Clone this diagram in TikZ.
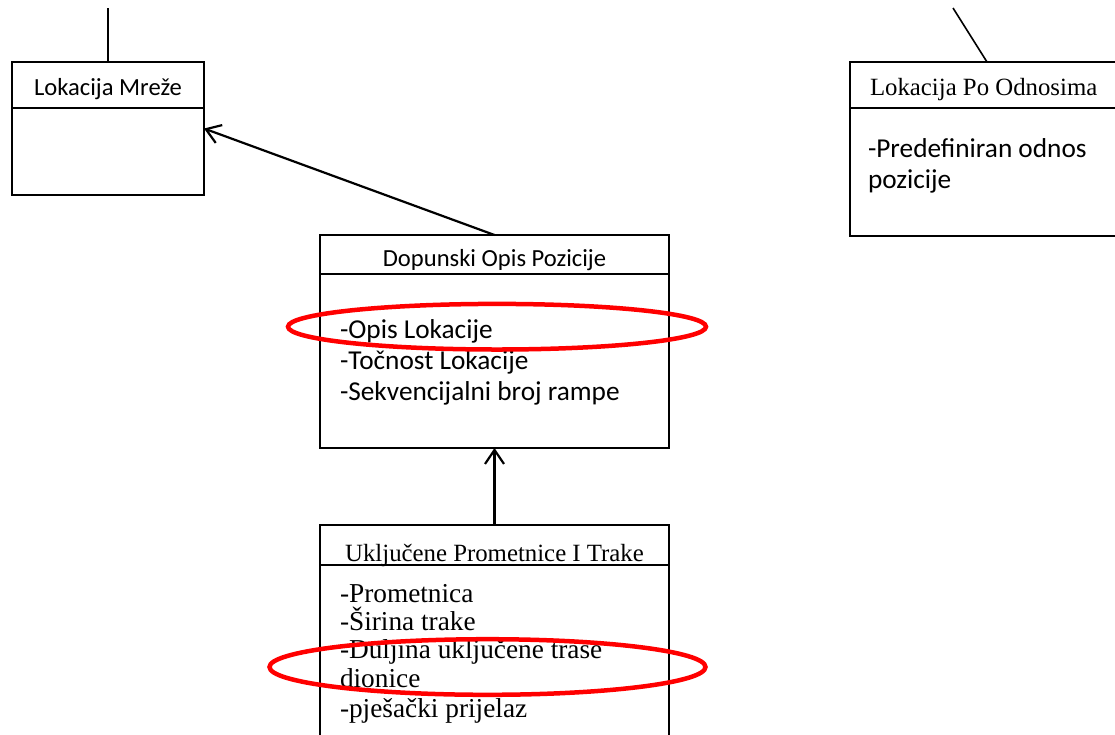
\documentclass[tikz,border=0pt]{standalone}
\usepackage{fontspec}
\setmainfont{Liberation Serif}
\newfontfamily\carlito{Carlito}
\usetikzlibrary{arrows.meta}
\newcommand{\sansttl}{\carlito\fontsize{24.6}{29}\selectfont}
\newcommand{\sansatr}{\carlito\fontsize{27.3}{31}\selectfont}
\newcommand{\serifttl}{\fontsize{24.8}{29}\selectfont}
\newcommand{\serifatr}{\fontsize{27.3}{29}\selectfont}

\begin{document}
\begin{tikzpicture}[x=1pt,y=-1pt,
    box/.style={draw,line width=1.8pt,inner sep=0pt,outer sep=0pt},
    txt/.style={inner sep=0pt,outer sep=0pt},
    assoc/.style={line width=2.2pt,-{Straight Barb[length=14pt,width=19pt,line width=2.2pt]}},
    redmark/.style={draw=red,line width=4.5pt}]
    \useasboundingbox (0,0) rectangle (1115,734);

    % class boxes
    \node[box,minimum width=192pt,minimum height=133pt] (mreza) at (108,128.5) {};
    \node[box,minimum width=274pt,minimum height=174pt] (odnos) at (987,149) {};
    \node[box,minimum width=349pt,minimum height=213pt] (dopis) at (494.5,341.5) {};
    \node[box,minimum width=349pt,minimum height=220pt] (trake) at (494.5,635) {};

    % dividers
    \draw[line width=1.8pt] (mreza.west |- 0,108) -- (mreza.east |- 0,108);
    \draw[line width=1.8pt] (odnos.west |- 0,108) -- (odnos.east |- 0,108);
    \draw[line width=1.8pt] (dopis.west |- 0,274) -- (dopis.east |- 0,274);
    \draw[line width=1.8pt] (trake.west |- 0,565) -- (trake.east |- 0,565);

    % titles
    \node[txt,anchor=base,font=\sansttl] (mrezat) at (108,95) {Lokacija Mreže};
    \node[txt,anchor=base west,font=\serifttl] (odnost) at (870,95) {Lokacija Po Odnosima};
    \node[txt,anchor=base,font=\sansttl] (dopist) at (494.5,266) {Dopunski Opis Pozicije};
    \node[txt,anchor=base,font=\serifttl] (traket) at (494.5,561) {Uključene Prometnice I Trake};

    % attributes
    \node[txt,anchor=base west,font=\sansatr] (odnos1) at (868,157) {-Predefiniran odnos};
    \node[txt,anchor=base west,font=\sansatr] (odnos2) at (868,188) {pozicije};
    \node[txt,anchor=base west,font=\sansatr] (dopis1) at (340,338) {-Opis Lokacije};
    \node[txt,anchor=base west,font=\sansatr] (dopis2) at (340,369) {-Točnost Lokacije};
    \node[txt,anchor=base west,font=\sansatr] (dopis3) at (340,400) {-Sekvencijalni broj rampe};
    \node[txt,anchor=base west,font=\serifatr] (trake1) at (340,602) {-Prometnica};
    \node[txt,anchor=base west,font=\serifatr] (trake2) at (340,630) {-Širina trake};
    \node[txt,anchor=base west,font=\serifatr] (trake3) at (340,658) {-Duljina uključene trase};
    \node[txt,anchor=base west,font=\serifatr] (trake4) at (340,687) {dionice};
    \node[txt,anchor=base west,font=\serifatr] (trake5) at (340,717) {-pješački prijelaz};

    % connectors
    \coordinate (mrezau) at (108,8);
    \coordinate (odnosu) at (953,8);
    \draw[line width=2pt] (mrezau) -- (mreza.north);
    \draw[line width=1.6pt] (odnosu) -- (odnos.north);
    \draw[assoc] (dopis.north) -- (mreza.east);
    \draw[assoc] (trake.north) -- (dopis.south);

    % red marks
    \draw[redmark] (497,326.7) ellipse [x radius=209, y radius=22.8];
    \draw[redmark] (487.5,667) ellipse [x radius=218, y radius=27.8];
\end{tikzpicture}
\end{document}
